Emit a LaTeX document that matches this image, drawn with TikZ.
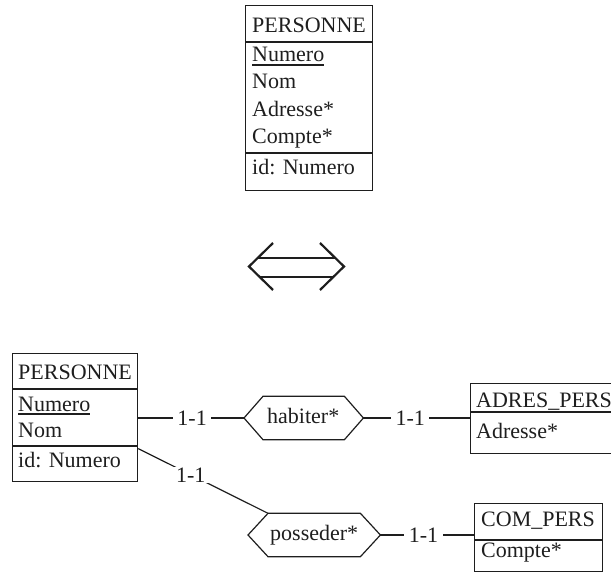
\documentclass[tikz,border=0pt]{standalone}
\usepackage{fontspec}
\setmainfont{Liberation Serif}
\definecolor{inkc}{RGB}{30,30,30}
\begin{document}
\begin{tikzpicture}[x=1pt,y=-1pt,
  entbox/.style={draw=inkc, line width=1.2pt, inner sep=0pt, anchor=north west},
  txt/.style={inner sep=0pt, anchor=base west, text=inkc, font=\fontsize{22}{26}\selectfont},
  sepline/.style={draw=inkc, line width=1.2pt},
  relbox/.style={inner sep=0pt, minimum height=43pt, anchor=west},
  hexa/.style={draw=inkc, line width=1.2pt, line join=miter},
  conn/.style={draw=inkc, line width=1.2pt},
  card/.style={fill=white, inner xsep=4.5pt, inner ysep=1pt, text=inkc, font=\fontsize{22}{26}\selectfont},
  equiv/.style={draw=inkc, line width=2.2pt, line join=miter}]
\useasboundingbox (0,0) rectangle (611,572);

% --- PERSONNE (single entity with multivalued attributes)
\node[entbox, minimum width=127pt, minimum height=185pt] (p1) at (245,5) {};
\draw[sepline] (p1.west |- 0,42) -- (p1.east |- 0,42);
\draw[sepline] (p1.west |- 0,153) -- (p1.east |- 0,153);
\node[txt] (p1a) at (252,33) {PERSONNE};
\node[txt] (p1b) at (252,62) {Numero};
\draw[sepline] ([yshift=-3pt]p1b.base west) -- ([yshift=-3pt]p1b.base east);
\node[txt] (p1c) at (252,89) {Nom};
\node[txt] (p1d) at (252,117) {Adresse*};
\node[txt] (p1e) at (252,144) {Compte*};
\node[txt] (p1f) at (252,175) {id: Numero};

% --- equivalence symbol
\draw[equiv] (273,243) -- (249,266.5) -- (273,290);
\draw[equiv] (320,243) -- (344,266.5) -- (320,290);
\draw[equiv] (258,257.7) -- (335,257.7);
\draw[equiv] (259,276.7) -- (334,276.7);

% --- PERSONNE (after extraction of the attributes)
\node[entbox, minimum width=125pt, minimum height=128pt] (p2) at (12,353) {};
\draw[sepline] (p2.west |- 0,389) -- (p2.east |- 0,389);
\draw[sepline] (p2.west |- 0,446) -- (p2.east |- 0,446);
\node[txt] (p2a) at (18,379) {PERSONNE};
\node[txt] (p2b) at (18,411) {Numero};
\draw[sepline] ([yshift=-3pt]p2b.base west) -- ([yshift=-3pt]p2b.base east);
\node[txt] (p2c) at (18,437) {Nom};
\node[txt] (p2d) at (18,467) {id: Numero};

% --- ADRES_PERS
\node[entbox, minimum width=149pt, minimum height=70pt] (ad) at (470,383) {};
\draw[sepline] (ad.west |- 0,412) -- (ad.east |- 0,412);
\node[txt] (ada) at (476,407) {ADRES\_PERS};
\node[txt] (adb) at (476,438) {Adresse*};

% --- COM_PERS
\node[entbox, minimum width=128pt, minimum height=68pt] (cp) at (474,503) {};
\draw[sepline] (cp.west |- 0,540) -- (cp.east |- 0,540);
\node[txt] (cpa) at (481,526) {COM\_PERS};
\node[txt] (cpb) at (481,557) {Compte*};

% --- relationship types
\node[relbox, minimum width=119pt] (hab) at (244,418) {};
\draw[hexa] (hab.west) -- ([xshift=19pt]hab.north west) -- ([xshift=-19pt]hab.north east)
  -- (hab.east) -- ([xshift=-19pt]hab.south east) -- ([xshift=19pt]hab.south west) -- cycle;
\node[txt] (habt) at (267,423) {habiter*};

\node[relbox, minimum width=132pt] (pss) at (248,535) {};
\draw[hexa] (pss.west) -- ([xshift=20pt]pss.north west) -- ([xshift=-20pt]pss.north east)
  -- (pss.east) -- ([xshift=-20pt]pss.south east) -- ([xshift=20pt]pss.south west) -- cycle;
\node[txt] (psst) at (270,540) {posseder*};

% --- roles
\draw[conn] (hab.west -| p2.east) -- node[card, pos=0.51] {1-1} (hab.west);
\draw[conn] (hab.east) -- node[card, pos=0.44] {1-1} (hab.east -| ad.west);
\draw[conn] ([yshift=-31pt]p2.east) -- node[card, pos=0.405] {1-1} ([xshift=20pt]pss.north west);
\draw[conn] (pss.east) -- node[card, pos=0.46] {1-1} (pss.east -| cp.west);
\end{tikzpicture}
\end{document}
